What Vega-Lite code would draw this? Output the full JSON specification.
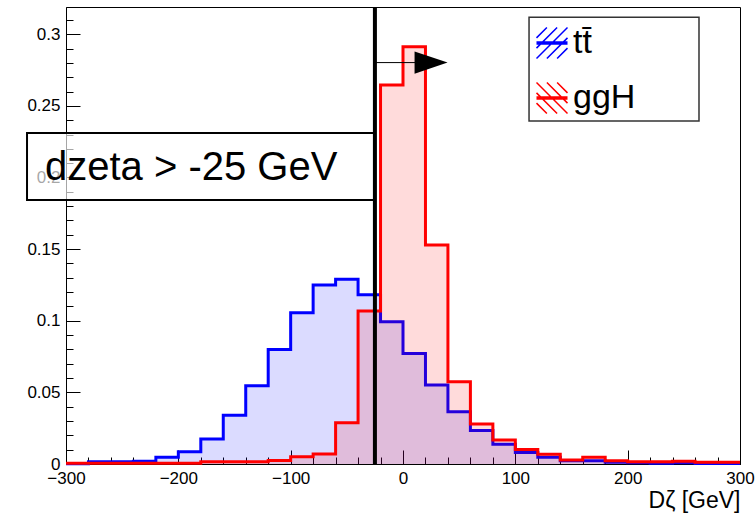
{
  "$schema": "https://vega.github.io/schema/vega-lite/v6.json",
  "width": 674,
  "height": 457,
  "autosize": {"type": "none"},
  "padding": {"left": 66, "top": 7, "right": 16, "bottom": 55},
  "background": "white",
  "config": {
    "view": {"stroke": "black", "strokeWidth": 1},
    "font": "Liberation Sans",
    "axis": {"labelFont": "Liberation Sans", "labelColor": "black", "tickColor": "black", "domainColor": "black", "grid": false, "titleFont": "Liberation Sans", "titleColor": "black", "titleFontWeight": "normal"}
  },
  "datasets": {
    "hist": [
      {"x": -300, "tt": 0.0002, "ggH": 0.0005},
      {"x": -280, "tt": 0.0015, "ggH": 0.0005},
      {"x": -260, "tt": 0.0015, "ggH": 0.0005},
      {"x": -240, "tt": 0.002, "ggH": 0.0005},
      {"x": -220, "tt": 0.0047, "ggH": 0.0005},
      {"x": -200, "tt": 0.0086, "ggH": 0.0005},
      {"x": -180, "tt": 0.0174, "ggH": 0.0015},
      {"x": -160, "tt": 0.034, "ggH": 0.0015},
      {"x": -140, "tt": 0.0547, "ggH": 0.0015},
      {"x": -120, "tt": 0.08, "ggH": 0.0025},
      {"x": -100, "tt": 0.1056, "ggH": 0.005},
      {"x": -80, "tt": 0.1249, "ggH": 0.0069},
      {"x": -60, "tt": 0.1289, "ggH": 0.0288},
      {"x": -40, "tt": 0.1182, "ggH": 0.1068},
      {"x": -20, "tt": 0.0993, "ggH": 0.2645},
      {"x": 0, "tt": 0.0772, "ggH": 0.2912},
      {"x": 20, "tt": 0.0551, "ggH": 0.1528},
      {"x": 40, "tt": 0.0365, "ggH": 0.0574},
      {"x": 60, "tt": 0.0233, "ggH": 0.0279},
      {"x": 80, "tt": 0.0137, "ggH": 0.0167},
      {"x": 100, "tt": 0.0081, "ggH": 0.0102},
      {"x": 120, "tt": 0.0047, "ggH": 0.0068},
      {"x": 140, "tt": 0.0022, "ggH": 0.0028},
      {"x": 160, "tt": 0.0022, "ggH": 0.0047},
      {"x": 180, "tt": 0.0012, "ggH": 0.0023},
      {"x": 200, "tt": 0.0008, "ggH": 0.0016},
      {"x": 220, "tt": 0.0006, "ggH": 0.0016},
      {"x": 240, "tt": 0.0008, "ggH": 0.002},
      {"x": 260, "tt": 0.0004, "ggH": 0.0012},
      {"x": 280, "tt": 0.0004, "ggH": 0.0012},
      {"x": 300, "tt": 0.0004, "ggH": 0.0012}
    ],
    "cut": [{"x": -25, "y": 0, "y2": 0.319}],
    "arrow": [{"x": -25, "x2": 25, "y": 0.2802}],
    "box": [{"x": -334.7, "x2": -25, "y": 0.1842, "y2": 0.231, "tx": -318.7, "ty": 0.1982, "label": "dzeta > -25 GeV"}],
    "legbox": [{"x": 112.2, "x2": 263.5, "y": 0.2394, "y2": 0.3119}],
    "series": [{"s": "tt̄"}, {"s": "ggH"}]
  },
  "resolve": {"axis": {"x": "independent", "y": "independent"}},
  "layer": [
    {
      "data": {"name": "hist"},
      "mark": {"type": "area", "interpolate": "step-after", "color": "#0000ff", "opacity": 0.14},
      "encoding": {
        "x": {"field": "x", "type": "quantitative", "scale": {"domain": [-300, 300], "nice": false, "zero": false},
          "axis": {"orient": "bottom", "values": [-300, -200, -100, 0, 100, 200, 300], "ticks": false, "labelPadding": 6, "labelFontSize": 17, "labelFlush": false, "title": "Dζ [GeV]", "titleFontSize": 23, "titleAnchor": "end", "titleAlign": "right", "titleBaseline": "alphabetic", "titleX": 674, "titleY": 43}},
        "y": {"field": "tt", "type": "quantitative", "scale": {"domain": [0, 0.319], "nice": false},
          "axis": {"orient": "left", "values": [0, 0.05, 0.1, 0.15, 0.2, 0.25, 0.3], "format": ".2~f", "ticks": false, "labelPadding": 6, "labelFontSize": 17, "labelFlush": false, "title": null}}
      }
    },
    {
      "data": {"name": "hist"},
      "mark": {"type": "line", "interpolate": "step-after", "color": "#0000ff", "strokeWidth": 3},
      "encoding": {
        "x": {"field": "x", "type": "quantitative", "scale": {"domain": [-300, 300], "nice": false, "zero": false},
          "axis": {"orient": "bottom", "values": [-300, -200, -100, 0, 100, 200, 300], "labels": false, "domain": false, "tickSize": -14, "title": null}},
        "y": {"field": "tt", "type": "quantitative", "scale": {"domain": [0, 0.319], "nice": false},
          "axis": {"orient": "left", "values": [0, 0.05, 0.1, 0.15, 0.2, 0.25, 0.3], "labels": false, "domain": false, "tickSize": -14, "title": null}}
      }
    },
    {
      "data": {"name": "hist"},
      "mark": {"type": "area", "interpolate": "step-after", "color": "#ff0000", "opacity": 0.14},
      "encoding": {
        "x": {"field": "x", "type": "quantitative", "scale": {"domain": [-300, 300], "nice": false, "zero": false},
          "axis": {"orient": "bottom", "values": [-300, -280, -260, -240, -220, -200, -180, -160, -140, -120, -100, -80, -60, -40, -20, 0, 20, 40, 60, 80, 100, 120, 140, 160, 180, 200, 220, 240, 260, 280, 300], "labels": false, "domain": false, "tickSize": -7, "title": null}},
        "y": {"field": "ggH", "type": "quantitative", "scale": {"domain": [0, 0.319], "nice": false},
          "axis": {"orient": "left", "values": [0, 0.01, 0.02, 0.03, 0.04, 0.05, 0.06, 0.07, 0.08, 0.09, 0.1, 0.11, 0.12, 0.13, 0.14, 0.15, 0.16, 0.17, 0.18, 0.19, 0.2, 0.21, 0.22, 0.23, 0.24, 0.25, 0.26, 0.27, 0.28, 0.29, 0.3, 0.31], "labels": false, "domain": false, "tickSize": -7, "title": null}}
      }
    },
    {
      "data": {"name": "hist"},
      "mark": {"type": "line", "interpolate": "step-after", "color": "#ff0000", "strokeWidth": 3},
      "encoding": {
        "x": {"field": "x", "type": "quantitative", "scale": {"domain": [-300, 300], "nice": false, "zero": false}, "axis": null},
        "y": {"field": "ggH", "type": "quantitative", "scale": {"domain": [0, 0.319], "nice": false}, "axis": null}
      }
    },
    {
      "data": {"name": "box"},
      "mark": {"type": "rect", "fill": "white", "fillOpacity": 0.65, "stroke": "black", "strokeWidth": 2},
      "encoding": {
        "x": {"field": "x", "type": "quantitative", "scale": {"domain": [-300, 300], "nice": false, "zero": false}, "axis": null},
        "x2": {"field": "x2"},
        "y": {"field": "y", "type": "quantitative", "scale": {"domain": [0, 0.319], "nice": false}, "axis": null},
        "y2": {"field": "y2"}
      }
    },
    {
      "data": {"name": "box"},
      "mark": {"type": "text", "align": "left", "baseline": "alphabetic", "font": "Liberation Sans", "fontSize": 40, "color": "black"},
      "encoding": {
        "x": {"field": "tx", "type": "quantitative", "scale": {"domain": [-300, 300], "nice": false, "zero": false}, "axis": null},
        "y": {"field": "ty", "type": "quantitative", "scale": {"domain": [0, 0.319], "nice": false}, "axis": null},
        "text": {"field": "label"}
      }
    },
    {
      "data": {"name": "cut"},
      "mark": {"type": "rule", "color": "black", "strokeWidth": 4},
      "encoding": {
        "x": {"field": "x", "type": "quantitative", "scale": {"domain": [-300, 300], "nice": false, "zero": false}, "axis": null},
        "y": {"field": "y", "type": "quantitative", "scale": {"domain": [0, 0.319], "nice": false}, "axis": null},
        "y2": {"field": "y2"}
      }
    },
    {
      "data": {"name": "arrow"},
      "mark": {"type": "rule", "color": "black", "strokeWidth": 1},
      "encoding": {
        "x": {"field": "x", "type": "quantitative", "scale": {"domain": [-300, 300], "nice": false, "zero": false}, "axis": null},
        "x2": {"field": "x2"},
        "y": {"field": "y", "type": "quantitative", "scale": {"domain": [0, 0.319], "nice": false}, "axis": null}
      }
    },
    {
      "data": {"name": "arrow"},
      "mark": {"type": "point", "shape": "M-1,-0.67L1,0L-1,0.67Z", "size": 1089, "filled": true, "color": "black", "opacity": 1},
      "encoding": {
        "x": {"field": "x2", "type": "quantitative", "scale": {"domain": [-300, 300], "nice": false, "zero": false}, "axis": null},
        "y": {"field": "y", "type": "quantitative", "scale": {"domain": [0, 0.319], "nice": false}, "axis": null}
      }
    },
    {
      "data": {"name": "legbox"},
      "mark": {"type": "rect", "fill": "white", "stroke": "#333333", "strokeWidth": 1.5},
      "encoding": {
        "x": {"field": "x", "type": "quantitative", "scale": {"domain": [-300, 300], "nice": false, "zero": false}, "axis": null},
        "x2": {"field": "x2"},
        "y": {"field": "y", "type": "quantitative", "scale": {"domain": [0, 0.319], "nice": false}, "axis": null},
        "y2": {"field": "y2"}
      }
    },
    {
      "data": {"name": "series"},
      "transform": [{"filter": "false"}],
      "mark": {"type": "point", "filled": false, "strokeWidth": 1.5, "opacity": 1},
      "encoding": {
        "color": {"field": "s", "type": "nominal",
          "scale": {"domain": ["tt̄", "ggH"], "range": ["#0000ff", "#ff0000"]},
          "legend": {"orient": "none", "legendX": 469, "legendY": 19, "title": null, "padding": 0, "labelFont": "Liberation Sans", "labelFontSize": 34, "labelColor": "black", "labelOffset": 4, "symbolSize": 961, "symbolStrokeWidth": 1.5, "symbolFillColor": "transparent", "rowPadding": 17, "labelLimit": 300}},
        "shape": {"field": "s", "type": "nominal",
          "scale": {"domain": ["tt̄", "ggH"], "range": ["M-1,1L1,-1M-0.33,1L1,-0.33M-1,0.33L0.33,-1M0.33,1L1,0.33M-1,-0.33L-0.33,-1M-1,-0.06H1M-1,0H1M-1,0.06H1", "M-1,-1L1,1M-0.33,-1L1,0.33M-1,-0.33L0.33,1M0.33,-1L1,-0.33M-1,0.33L-0.33,1M-1,-0.06H1M-1,0H1M-1,0.06H1"]}}
      }
    }
  ]
}
